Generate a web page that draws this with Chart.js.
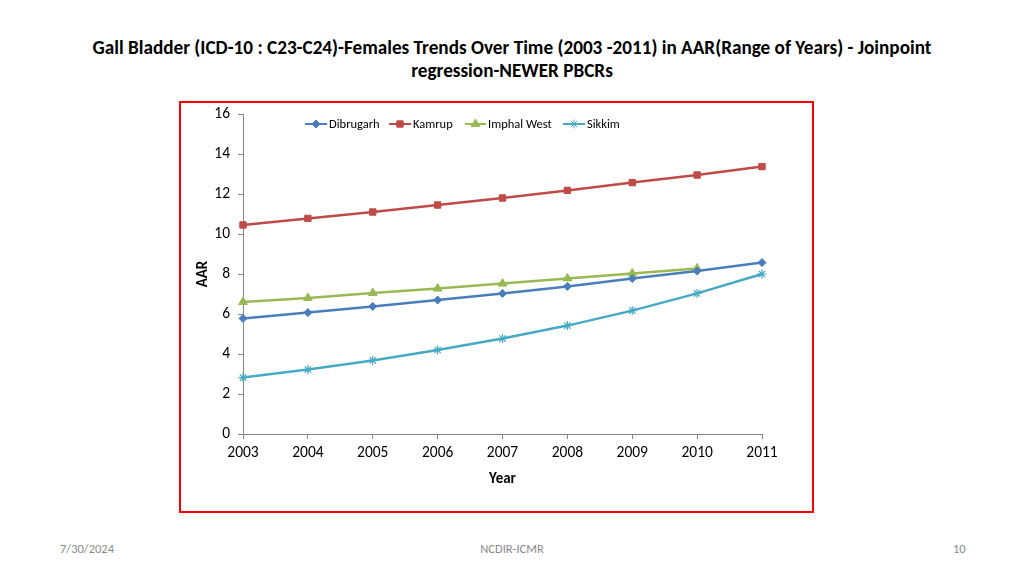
<!DOCTYPE html>
<html>
<head>
<meta charset="utf-8">
<script src="https://cdn.jsdelivr.net/npm/chart.js@4.4.1/dist/chart.umd.min.js"></script>
<style>
  html, body { margin: 0; padding: 0; background: #fff; }
  body { width: 1024px; height: 576px; position: relative; overflow: hidden; font-family: Carlito, Lato, sans-serif; }
  .title { position: absolute; left: 0; top: 36px; width: 1024px; text-align: center; font-weight: bold; font-size: 19.2px; line-height: 23px; color: #000; }
  .frame { position: absolute; left: 179px; top: 101px; width: 631px; height: 408px; border: 2px solid #ff0000; }
  .frame canvas { position: absolute; left: 0; top: 0; }
  .foot { position: absolute; top: 541px; font-size: 12.5px; color: #8b8b8b; }
</style>
</head>
<body>
<div class="title">Gall Bladder (ICD-10 : C23-C24)-Females Trends Over Time (2003 -2011) in AAR(Range of Years) - Joinpoint<br>regression-NEWER PBCRs</div>
<div class="frame"><canvas id="chart" width="631" height="408"></canvas></div>
<div class="foot" style="left:60px">7/30/2024</div>
<div class="foot" style="left:0;width:1024px;text-align:center">NCDIR-ICMR</div>
<div class="foot" style="left:953px">10</div>
<script>
const years = ['2003', '2004', '2005', '2006', '2007', '2008', '2009', '2010', '2011'];
const dibrugarh = [5.78, 6.07, 6.38, 6.7, 7.03, 7.38, 7.77, 8.15, 8.57];
const kamrup = [10.45, 10.78, 11.1, 11.45, 11.8, 12.18, 12.57, 12.95, 13.37];
const imphalWest = [6.6, 6.8, 7.05, 7.27, 7.52, 7.78, 8.03, 8.28];
const sikkim = [2.82, 3.22, 3.68, 4.2, 4.77, 5.42, 6.17, 7.03, 8.0];

const axisGray = '#868686';
const fontFamily = 'Carlito, Lato, sans-serif';

function series(label, data, color, style, radius) {
  return {
    label,
    data,
    borderColor: color,
    backgroundColor: color,
    borderWidth: 2.5,
    pointStyle: style,
    pointRadius: radius,
    pointBorderWidth: style === 'star' ? 1.2 : 1,
    tension: 0,
  };
}

// legend drawn inside the plot like the Excel one: line + marker + text
const lineLegend = {
  id: 'lineLegend',
  afterDraw(chart) {
    const { ctx } = chart;
    const items = [[305, 329], [389, 413], [465, 488], [563, 587]];
    ctx.save();
    ctx.font = '12.5px ' + fontFamily;
    ctx.textBaseline = 'middle';
    chart.data.datasets.forEach((ds, i) => {
      const [lx, tx] = items[i];
      const x0 = lx - 181, x1 = tx - 181 - 2, y = 124 - 103;
      ctx.strokeStyle = ds.borderColor;
      ctx.lineWidth = 2;
      ctx.beginPath();
      ctx.moveTo(x0, y);
      ctx.lineTo(x1, y);
      ctx.stroke();
      ctx.fillStyle = ds.borderColor;
      ctx.lineWidth = 1;
      Chart.helpers.drawPoint(ctx, {
        pointStyle: ds.pointStyle, radius: ds.pointRadius, borderWidth: 1, rotation: 0,
      }, (x0 + x1) / 2, y);
      ctx.fillStyle = '#000';
      ctx.fillText(ds.label, tx - 181, y + 1);
    });
    ctx.restore();
  },
};

new Chart(document.getElementById('chart'), {
  type: 'line',
  data: {
    labels: years,
    datasets: [
      series('Dibrugarh', dibrugarh, '#4a7ebb', 'rectRot', 4),
      series('Kamrup', kamrup, '#be4b48', 'rect', 4.5),
      series('Imphal West', imphalWest, '#98b954', 'triangle', 5),
      series('Sikkim', sikkim, '#46aac5', 'star', 4.5),
    ],
  },
  options: {
    responsive: false,
    animation: false,
    layout: { padding: { top: 11, right: 50, bottom: 23, left: 0 } },
    plugins: {
      legend: { display: false },
      tooltip: { enabled: false },
    },
    scales: {
      x: {
        offset: false,
        grid: { display: true, drawOnChartArea: false, drawTicks: true, tickLength: 5, color: axisGray },
        border: { color: axisGray, width: 1 },
        ticks: { color: '#000', font: { size: 15.5, family: fontFamily }, padding: 5, maxRotation: 0 },
        title: { display: true, text: 'Year', color: '#000', font: { size: 15, weight: 'bold', family: fontFamily }, padding: { top: 4, bottom: 0 } },
        afterFit(scale) { scale.height = 54; },
      },
      y: {
        min: 0,
        max: 16,
        ticks: { stepSize: 2, color: '#000', font: { size: 15.5, family: fontFamily }, padding: 8 },
        grid: { display: true, drawOnChartArea: false, drawTicks: true, tickLength: 5, color: axisGray },
        border: { color: axisGray, width: 1 },
        title: { display: true, text: 'AAR', color: '#000', font: { size: 15, weight: 'bold', family: fontFamily }, padding: { top: 13, bottom: 0 } },
        afterFit(scale) {
          scale.width = 62;
          scale.paddingTop = 0;
        },
      },
    },
  },
  plugins: [lineLegend],
});
</script>
</body>
</html>
